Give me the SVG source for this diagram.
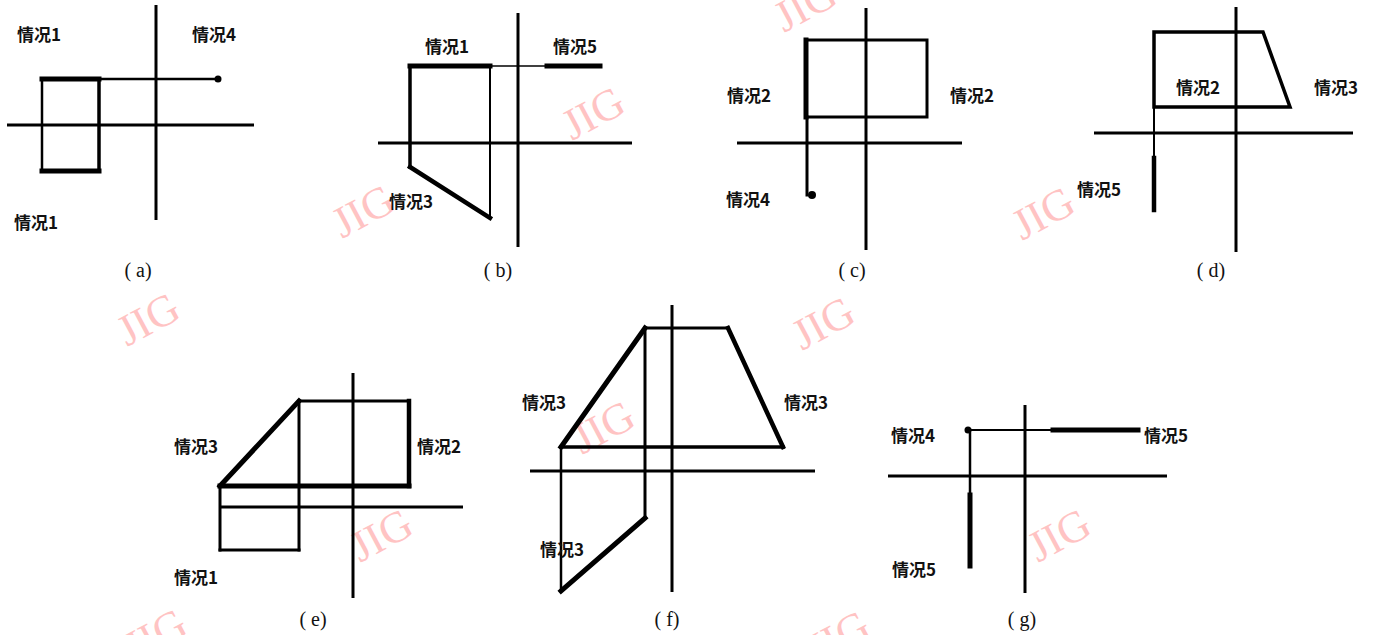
<svg xmlns="http://www.w3.org/2000/svg" width="1380" height="635" viewBox="0 0 1380 635">
<style>
.ln{stroke:#000;fill:none;stroke-linecap:square;stroke-linejoin:miter}
.ax{stroke:#000;stroke-width:3;fill:none}
.lb{font-family:"Noto Sans CJK SC","Noto Sans",sans-serif;font-size:17px;font-weight:700;fill:#111}
.cap{font-family:"Liberation Serif",serif;font-size:20px;fill:#111;text-anchor:middle}
.wm{font-family:"Liberation Serif",serif;font-size:44px;fill:#ff9c9c;opacity:0.6;text-anchor:middle}
</style>
<rect width="1380" height="635" fill="#fff"/>
<g id="watermarks">
<text class="wm" transform="translate(155,332) rotate(-28)">JIG</text>
<text class="wm" transform="translate(600,126) rotate(-28)">JIG</text>
<text class="wm" transform="translate(370,224) rotate(-28)">JIG</text>
<text class="wm" transform="translate(812,18) rotate(-28)">JIG</text>
<text class="wm" transform="translate(1050,226) rotate(-28)">JIG</text>
<text class="wm" transform="translate(830,336) rotate(-28)">JIG</text>
<text class="wm" transform="translate(610,440) rotate(-28)">JIG</text>
<text class="wm" transform="translate(388,548) rotate(-28)">JIG</text>
<text class="wm" transform="translate(1066,548) rotate(-28)">JIG</text>
<text class="wm" transform="translate(162,648) rotate(-28)">JIG</text>
<text class="wm" transform="translate(845,650) rotate(-28)">JIG</text>
</g>
<g id="panel-a">
<line class="ax" x1="156" y1="5" x2="156" y2="220"/>
<line class="ax" x1="7" y1="125" x2="254" y2="125"/>
<line class="ln" stroke-width="2.5" x1="42" y1="79" x2="42" y2="171"/>
<line class="ln" stroke-width="5" x1="42" y1="79" x2="99" y2="79"/>
<line class="ln" stroke-width="5" x1="42" y1="171" x2="99" y2="171"/>
<line class="ln" stroke-width="3.5" x1="99" y1="79" x2="99" y2="171"/>
<line class="ln" stroke-width="2.5" x1="99" y1="79" x2="218" y2="79"/>
<circle cx="218" cy="79" r="3.5" fill="#000"/>
<text class="lb" x="17" y="41">情况1</text>
<text class="lb" x="192" y="41">情况4</text>
<text class="lb" x="14" y="229">情况1</text>
<text class="cap" x="138" y="277">( a)</text>
</g>
<g id="panel-b">
<line class="ax" x1="518" y1="13" x2="518" y2="247"/>
<line class="ax" x1="378" y1="143" x2="632" y2="143"/>
<line class="ln" stroke-width="5" x1="410" y1="66" x2="490" y2="66"/>
<line class="ln" stroke-width="3.5" x1="410" y1="66" x2="410" y2="167"/>
<line class="ln" stroke-width="4.5" x1="410" y1="167" x2="490" y2="218"/>
<line class="ln" stroke-width="2" x1="490" y1="66" x2="490" y2="218"/>
<line class="ln" stroke-width="1.5" x1="490" y1="66" x2="547" y2="66"/>
<line class="ln" stroke-width="5" x1="547" y1="66" x2="600" y2="66"/>
<text class="lb" x="425" y="53">情况1</text>
<text class="lb" x="553" y="53">情况5</text>
<text class="lb" x="389" y="208">情况3</text>
<text class="cap" x="498" y="277">( b)</text>
</g>
<g id="panel-c">
<line class="ax" x1="866" y1="8" x2="866" y2="250"/>
<line class="ax" x1="737" y1="143" x2="962" y2="143"/>
<rect class="ln" stroke-width="3" x="806" y="40" width="121" height="77"/>
<line class="ln" stroke-width="5" x1="806" y1="40" x2="806" y2="117"/>
<line class="ln" stroke-width="3" x1="807" y1="117" x2="807" y2="195"/>
<circle cx="812" cy="195" r="4" fill="#000"/>
<text class="lb" x="727" y="102">情况2</text>
<text class="lb" x="950" y="102">情况2</text>
<text class="lb" x="726" y="206">情况4</text>
<text class="cap" x="852" y="277">( c)</text>
</g>
<g id="panel-d">
<line class="ax" x1="1236" y1="7" x2="1236" y2="252"/>
<line class="ax" x1="1094" y1="133" x2="1353" y2="133"/>
<polygon class="ln" stroke-width="3.5" points="1154,32 1263,32 1290,107 1154,107"/>
<line class="ln" stroke-width="2" x1="1154" y1="107" x2="1154" y2="158"/>
<line class="ln" stroke-width="4.5" x1="1154" y1="158" x2="1154" y2="210"/>
<text class="lb" x="1176" y="94">情况2</text>
<text class="lb" x="1314" y="94">情况3</text>
<text class="lb" x="1077" y="196">情况5</text>
<text class="cap" x="1211" y="277">( d)</text>
</g>
<g id="panel-e">
<line class="ax" x1="353" y1="373" x2="353" y2="598"/>
<line class="ax" stroke-width="2.5" x1="220" y1="507" x2="463" y2="507"/>
<line class="ln" stroke-width="3" x1="299" y1="401" x2="409" y2="401"/>
<line class="ln" stroke-width="4.5" x1="409" y1="401" x2="409" y2="486"/>
<line class="ln" stroke-width="5" x1="220" y1="486" x2="409" y2="486"/>
<line class="ln" stroke-width="5" x1="220" y1="486" x2="299" y2="401"/>
<line class="ln" stroke-width="3" x1="299" y1="401" x2="299" y2="550"/>
<line class="ln" stroke-width="3" x1="220" y1="486" x2="220" y2="550"/>
<line class="ln" stroke-width="3" x1="220" y1="550" x2="299" y2="550"/>
<text class="lb" x="174" y="453">情况3</text>
<text class="lb" x="417" y="453">情况2</text>
<text class="lb" x="174" y="584">情况1</text>
<text class="cap" x="313" y="626">( e)</text>
</g>
<g id="panel-f">
<line class="ax" x1="672" y1="305" x2="672" y2="592"/>
<line class="ax" stroke-width="4" x1="530" y1="471" x2="815" y2="471"/>
<line class="ln" stroke-width="3" x1="645" y1="328" x2="728" y2="328"/>
<line class="ln" stroke-width="4.5" x1="728" y1="328" x2="783" y2="447"/>
<line class="ln" stroke-width="3.5" x1="783" y1="447" x2="561" y2="447"/>
<line class="ln" stroke-width="5" x1="561" y1="447" x2="645" y2="328"/>
<line class="ln" stroke-width="3" x1="645" y1="328" x2="645" y2="518"/>
<line class="ln" stroke-width="5" x1="645" y1="518" x2="561" y2="591"/>
<line class="ln" stroke-width="2.5" x1="561" y1="591" x2="561" y2="447"/>
<text class="lb" x="522" y="409">情况3</text>
<text class="lb" x="784" y="409">情况3</text>
<text class="lb" x="540" y="556">情况3</text>
<text class="cap" x="667" y="626">( f)</text>
</g>
<g id="panel-g">
<line class="ax" x1="1025" y1="405" x2="1025" y2="593"/>
<line class="ax" stroke-width="2.5" x1="888" y1="476" x2="1167" y2="476"/>
<circle cx="968" cy="430" r="3.5" fill="#000"/>
<line class="ln" stroke-width="2" x1="968" y1="430" x2="1053" y2="430"/>
<line class="ln" stroke-width="5" x1="1053" y1="430" x2="1138" y2="430"/>
<line class="ln" stroke-width="2.5" x1="970" y1="430" x2="970" y2="495"/>
<line class="ln" stroke-width="5" x1="970" y1="495" x2="970" y2="566"/>
<text class="lb" x="891" y="442">情况4</text>
<text class="lb" x="1144" y="442">情况5</text>
<text class="lb" x="892" y="576">情况5</text>
<text class="cap" x="1022" y="626">( g)</text>
</g>
</svg>
